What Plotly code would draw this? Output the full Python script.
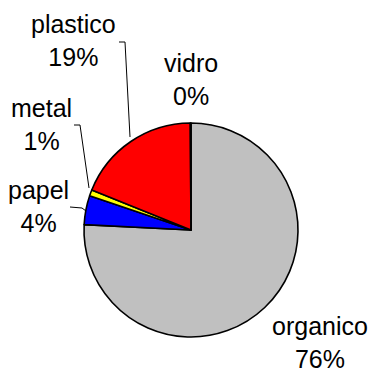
import plotly.graph_objects as go

# Composição dos resíduos (%)
categorias = ["organico", "papel", "metal", "plastico", "vidro"]
valores = [75.8, 4.4, 0.9, 18.8, 0.1]
cores = ["#C0C0C0", "#0000FF", "#FFFF00", "#FF0000", "#FFFFFF"]

W, H = 368, 371
CX, CY, R = 191, 230, 107  # pie centre and radius in pixels


def px(x):
    return x / W


def py(y):
    return 1 - y / H


fig = go.Figure(
    go.Pie(
        labels=categorias,
        values=valores,
        sort=False,
        direction="clockwise",
        rotation=0,
        marker=dict(colors=cores, line=dict(color="black", width=1.6)),
        textinfo="none",
        hoverinfo="label+percent",
        showlegend=False,
        domain=dict(x=[px(CX - R), px(CX + R)], y=[py(CY + R), py(CY - R)]),
    )
)

total = sum(valores)
# label centres (pixels)
pos_rotulos = {
    "organico": (320, 342),
    "papel": (38, 207),
    "metal": (41, 124),
    "plastico": (73, 40),
    "vidro": (191, 79),
}
for nome, v in zip(categorias, valores):
    x, y = pos_rotulos[nome]
    fig.add_annotation(
        x=px(x), y=py(y), xref="paper", yref="paper",
        text=f"{nome}<br>{round(v / total * 100):.0f}%",
        showarrow=False, xanchor="center", yanchor="middle",
        font=dict(family="Arial, Liberation Sans, sans-serif", size=25, color="black"),
    )

# leader lines
guias = [
    [(119, 42), (125, 42), (130, 137)],
    [(74, 125), (80, 125), (89, 188)],
    [(70, 207), (82, 208), (86, 211)],
]
for pts in guias:
    path = "M " + " L ".join(f"{px(x)},{py(y)}" for x, y in pts)
    fig.add_shape(type="path", path=path, xref="paper", yref="paper",
                  line=dict(color="black", width=1))

fig.update_layout(
    width=W, height=H,
    margin=dict(l=0, r=0, t=0, b=0),
    paper_bgcolor="white", plot_bgcolor="white",
)

fig.write_html("out.html")
